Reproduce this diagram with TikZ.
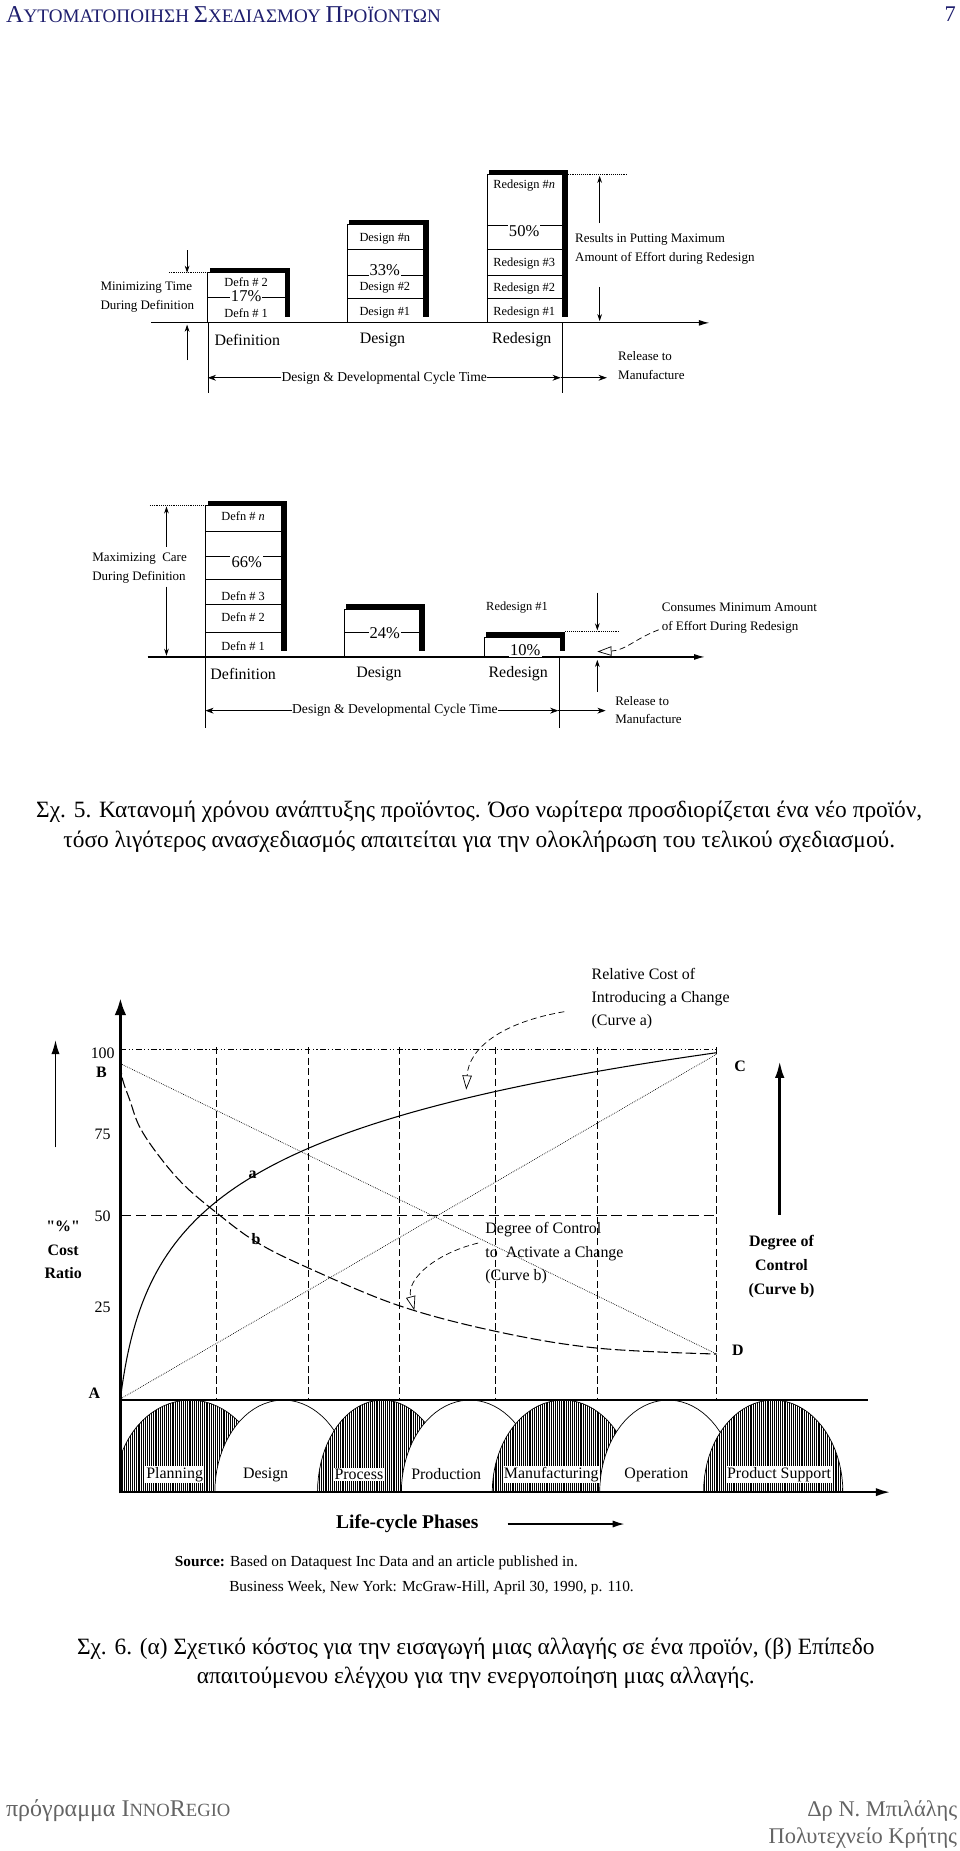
\documentclass[tikz,border=0pt]{standalone}
\usepackage{fontspec}
\setmainfont{Liberation Serif}
\usepackage{xcolor}
\definecolor{pghead}{RGB}{30,30,110}
\definecolor{pgfoot}{RGB}{100,100,100}
\usetikzlibrary{arrows.meta,positioning,patterns.meta}
\newcommand{\fsz}[2]{\fontsize{#1}{#2}\selectfont}
\newcommand{\effbox}[4]{%
  \fill (#1+2,#3-4) rectangle (#2+5,#3);
  \fill (#2,#3-4) rectangle (#2+5,#4-5);
  \draw[line width=0.6pt] (#1,#4) -- (#1,#3) -- (#2,#3);}

\begin{document}
\begin{tikzpicture}[x=1pt,y=-1pt,
  txt/.style={inner sep=0.5pt,font=\fsz{10.5}{12}},
  pct/.style={inner sep=1pt,fill=white,font=\fsz{14}{16}},
  phase/.style={inner sep=0pt,font=\fsz{13.5}{16}},
  note/.style={inner sep=0pt,align=left,font=\fsz{11}{16}},
  rowline/.style={line width=0.5pt},
  hairline/.style={line width=0.3pt},
  dotline/.style={line width=0.6pt,densely dotted},
  dimarr/.style={-{Stealth[length=6pt,width=4pt]},line width=0.6pt},
  cycarr/.style={-{Stealth[length=7pt,width=5pt]},line width=0.6pt},
  flowarr/.style={-{Latex[length=9pt,width=5pt]},line width=1pt},
  pointer/.style={line width=0.6pt,dash pattern=on 5pt off 3pt,-{Triangle[open,length=12pt,width=8pt]}},
  chtxt/.style={inner sep=0pt,align=left,font=\fsz{13.5}{19.5}},
  chbf/.style={inner sep=0pt,align=center,font=\bfseries\fsz{13.5}{20}},
  grida/.style={line width=0.6pt,dash pattern=on 5pt off 2pt on 1pt off 2pt on 1pt off 2pt},
  gridb/.style={line width=0.8pt,dash pattern=on 9pt off 4pt},
  gridv/.style={line width=0.7pt,dash pattern=on 6pt off 3pt},
  curvea/.style={line width=0.9pt},
  curveb/.style={line width=0.9pt,dash pattern=on 9pt off 3pt},
  guide/.style={line width=0.6pt,densely dotted},
  archw/.style={draw,fill=white,line width=0.6pt},
  archh/.style={draw,line width=0.6pt,preaction={fill=white},
    pattern={Lines[angle=90,distance=1.6pt,line width=0.55pt]}},
  figcap/.style={inner sep=0pt,align=center,font=\fsz{19.8}{25}}]
\useasboundingbox[fill=white] (0,0) rectangle (813,1568);

% page head
\node[anchor=west,text=pghead,inner sep=0pt] (head) at (5,12)
  {\fsz{20.5}{22}Α\fsz{16.2}{18}ΥΤΟΜΑΤΟΠΟΙΗΣΗ \fsz{20.5}{22}Σ\fsz{16.2}{18}ΧΕΔΙΑΣΜΟΥ \fsz{20.5}{22}Π\fsz{16.2}{18}ΡΟΪΟΝΤΩΝ};
\node[text=pghead,inner sep=0pt,font=\fsz{19}{22}] (pgno) at (805,12) {7};

% Fig. 5, upper part
\coordinate (ax1l) at (128,273.5);
\coordinate (ax1r) at (601,273.5);
\draw[flowarr] (ax1l) -- (ax1r);
\effbox{176}{241}{231}{273.5}
\draw[rowline] (176,252) -- (241,252);
\node[txt] (dfa2) at (208.5,239) {Defn \# 2};
\node[pct] (dfa17) at (208.5,250.5) {17\%};
\node[txt] (dfa1) at (208.5,265) {Defn \# 1};
\effbox{294}{358}{190}{273.5}
\foreach \y in {211,233,253} \draw[rowline] (294,\y) -- (358,\y);
\node[txt] (dsan) at (326,202) {Design \#n};
\node[pct,anchor=base] (dsa33) at (326,233.5) {33\%};
\node[txt] (dsa2) at (326,244) {Design \#2};
\node[txt] (dsa1) at (326,264.5) {Design \#1};
\effbox{412.5}{476}{148}{273.5}
\foreach \y in {190.5,211,233,253} \draw[rowline] (412.5,\y) -- (476,\y);
\node[txt] (rdan) at (444,157) {Redesign \#\textit{n}};
\node[pct] (rda50) at (444,196) {50\%};
\node[txt] (rda3) at (444,223) {Redesign \#3};
\node[txt] (rda2) at (444,244) {Redesign \#2};
\node[txt] (rda1) at (444,264.5) {Redesign \#1};
\draw[dotline] (143,231) -- (176,231);
\draw[dotline] (481,148) -- (531,148);
\coordinate (mt1) at (158.5,212);
\coordinate (mt2) at (158.5,231);
\coordinate (mt3) at (158.5,305);
\coordinate (mt4) at (158.5,275);
\draw[dimarr] (mt1) -- (mt2);
\draw[dimarr] (mt3) -- (mt4);
\node[note,anchor=west] (mintime) at (85,251.5) {Minimizing Time\\During Definition};
\coordinate (rm1) at (508,189);
\coordinate (rm2) at (508,149);
\coordinate (rm3) at (508,243);
\coordinate (rm4) at (508,272);
\draw[dimarr] (rm1) -- (rm2);
\draw[dimarr] (rm3) -- (rm4);
\node[note,anchor=west] (maxeff) at (487,211) {Results in Putting Maximum\\Amount of Effort during Redesign};
\node[phase] (pha1) at (209.5,288) {Definition};
\node[phase] (pha2) at (324,288) {Design};
\node[phase] (pha3) at (442,288) {Redesign};
\draw[hairline] (176,273.5) -- (176,333);
\draw[hairline] (476,273.5) -- (476,333);
\node[note,font=\fsz{11.5}{14}] (cyca) at (325.5,320) {Design \& Developmental Cycle Time};
\coordinate (cyal) at (176,320);
\coordinate (cyar) at (475,320);
\coordinate (rela) at (514,320);
\draw[cycarr] (cyca.west) -- (cyal);
\draw[cycarr] (cyca.east) -- (cyar);
\draw[cycarr] (cyar) -- (rela);
\node[note,anchor=west] (relta) at (523.5,310) {Release to\\Manufacture};

% Fig. 5, lower part
\coordinate (ax2l) at (125,556.5);
\coordinate (ax2r) at (597,556.5);
\draw[flowarr] (ax2l) -- (ax2r);
\effbox{174}{238}{428}{556.5}
\foreach \y in {450,471,491,512,536} \draw[rowline] (174,\y) -- (238,\y);
\node[txt] (dfbn) at (206,437) {Defn \# \textit{n}};
\node[pct] (dfb66) at (209,476.5) {66\%};
\node[txt] (dfb3) at (206,505) {Defn \# 3};
\node[txt] (dfb2) at (206,523) {Defn \# 2};
\node[txt] (dfb1) at (206,547) {Defn \# 1};
\effbox{291.5}{355}{516}{556.5}
\draw[rowline] (291.5,536) -- (355,536);
\node[pct] (dsb24) at (326,536) {24\%};
\effbox{410}{474}{539.5}{556.5}
\node[pct] (rdb10) at (445,550.5) {10\%};
\node[txt] (rdb1) at (438,515) {Redesign \#1};
\draw[dotline] (127,428) -- (174,428);
\draw[dotline] (479,535) -- (525,535);
\coordinate (mc1) at (141,463);
\coordinate (mc2) at (141,429);
\coordinate (mc3) at (141,497);
\coordinate (mc4) at (141,555.5);
\draw[dimarr] (mc1) -- (mc2);
\draw[dimarr] (mc3) -- (mc4);
\node[note,anchor=west] (maxcare) at (78,481) {Maximizing\ \ Care\\During Definition};
\coordinate (cm1) at (506,502);
\coordinate (cm2) at (506,534);
\coordinate (cm3) at (506,586);
\coordinate (cm4) at (506,559);
\draw[dimarr] (cm1) -- (cm2);
\draw[dimarr] (cm3) -- (cm4);
\node[note,anchor=west] (mineff) at (560.5,523.5) {Consumes Minimum Amount\\of Effort During Redesign};
\coordinate (mp1) at (558,533.5);
\coordinate (mp2) at (506,552);
\draw[pointer] (mp1) .. controls (538,541) and (530,551) .. (mp2);
\node[phase] (phb1) at (206,571) {Definition};
\node[phase] (phb2) at (321,571) {Design};
\node[phase] (phb3) at (439,571) {Redesign};
\draw[hairline] (174,556.5) -- (174,617);
\draw[hairline] (474,556.5) -- (474,617);
\node[note,font=\fsz{11.5}{14}] (cycb) at (334.5,602) {Design \& Developmental Cycle Time};
\coordinate (cybl) at (174,602);
\coordinate (cybr) at (473,602);
\coordinate (relb) at (513,602);
\draw[cycarr] (cycb.west) -- (cybl);
\draw[cycarr] (cycb.east) -- (cybr);
\draw[cycarr] (cybr) -- (relb);
\node[note,anchor=west] (reltb) at (521,601.5) {Release to\\Manufacture};

\node[figcap] (cap5) at (406,700.5) {Σχ. 5. Κατανομή χρόνου ανάπτυξης προϊόντος. Όσο νωρίτερα προσδιορίζεται ένα νέο προϊόν,\\τόσο λιγότερος ανασχεδιασμός απαιτείται για την ολοκλήρωση του τελικού σχεδιασμού.};

% Fig. 6
\coordinate (A) at (102,1185);
\coordinate (B) at (102,901);
\coordinate (C) at (607,893);
\coordinate (D) at (607,1147);
\draw[grida] (102,889) -- (607,889);
\draw[gridb] (102,1030) -- (607,1030);
\foreach \x in {183,261,338,420,506,607} \draw[gridv] (\x,887) -- (\x,1186);
\draw[guide] (B) -- (D);
\draw[guide] (A) -- (C);
\draw[curvea] plot[domain=0:22.47,samples=90,variable=\s] ({102+\s*\s},{1185-72.5*ln(1+\s*\s/9)});
\draw[curveb] plot[smooth,tension=0.6] coordinates {(B) (104,915) (110,932) (118,954) (133,977) (155,1003) (183,1027) (217,1052) (261,1074) (338,1106) (421,1128) (506,1142) (D)};
\begin{scope}
  \clip (102,1186) rectangle (760,1264);
  \foreach \cx/\hw/\st in {161/64/archh,240/58/archw,324/55/archh,398/58/archw,477/60/archh,566/58/archw,655/59/archh}
    \draw[\st] plot[domain=180:360,samples=40,variable=\t] ({\cx+\hw*cos(\t)},{1264+78*sin(\t)}) -- cycle;
\end{scope}
\draw[line width=1.8pt] (102,1186) -- (735,1186);
\draw[line width=1.8pt,-{Latex[length=12pt,width=7pt]}] (101,1264) -- (754,1264);
\draw[line width=3pt,-{Latex[length=15pt,width=10pt]}] (102,1265) -- (102,845);
\node[phase,fill=white,inner sep=1pt] (lc1) at (148,1249) {Planning};
\node[phase] (lc2) at (225,1249) {Design};
\node[phase,fill=white,inner sep=1pt] (lc3) at (304,1249) {Process};
\node[phase] (lc4) at (378,1249) {Production};
\node[phase,fill=white,inner sep=1pt] (lc5) at (467,1249) {Manufacturing};
\node[phase] (lc6) at (556,1249) {Operation};
\node[phase,fill=white,inner sep=1pt] (lc7) at (660,1249) {Product Support};
\node[chbf] (lA) at (80,1180) {A};
\node[chbf] (lB) at (86,908) {B};
\node[chbf] (lC) at (627,903) {C};
\node[chbf] (lD) at (625,1144) {D};
\node[chtxt] (t100) at (87,892) {100};
\node[chtxt] (t75) at (87,961) {75};
\node[chtxt] (t50) at (87,1030) {50};
\node[chtxt] (t25) at (87,1107) {25};
\node[chbf] (la) at (214,995) {a};
\node[chbf] (lb) at (217,1050) {b};
\coordinate (yl1) at (47,972);
\coordinate (yl2) at (47,881);
\draw[line width=1.3pt,-{Latex[length=12pt,width=7pt]}] (yl1) -- (yl2);
\node[chbf] (costr) at (53.5,1059) {\textquotedbl\%\textquotedbl\\Cost\\Ratio};
\coordinate (yr1) at (660.5,1029);
\coordinate (yr2) at (660.5,899);
\draw[line width=2.2pt,-{Latex[length=14pt,width=8pt]}] (yr1) -- (yr2);
\node[chbf] (dctrl) at (662,1073) {Degree of\\Control\\(Curve b)};
\node[chtxt,anchor=west] (relc) at (501,846) {Relative Cost of\\Introducing a Change\\(Curve a)};
\node[chtxt,anchor=west] (dgc) at (411,1061.5) {Degree of Control\\to\ \ Activate a Change\\(Curve b)};
\coordinate (pa1) at (478,857);
\coordinate (pa2) at (395,923);
\draw[pointer] (pa1) .. controls (425,866) and (397,888) .. (pa2);
\coordinate (pb1) at (405,1053);
\coordinate (pb2) at (351,1110);
\draw[pointer] (pb1) .. controls (368,1062) and (344,1084) .. (pb2);
\node[inner sep=0pt,font=\bfseries\fsz{16.5}{18}] (lcp) at (345,1291) {Life-cycle Phases};
\coordinate (lcp1) at (430,1291);
\coordinate (lcp2) at (529,1291);
\draw[line width=1.2pt,-{Latex[length=10pt,width=6pt]}] (lcp1) -- (lcp2);
\node[inner sep=0pt,anchor=west,font=\fsz{13}{15}] (src1) at (148,1324) {\textbf{Source:} Based on Dataquest Inc Data and an article published in.};
\node[inner sep=0pt,anchor=west,font=\fsz{13}{15}] (src2) at (194,1345) {Business Week, New York: McGraw-Hill, April 30, 1990, p. 110.};

\node[figcap] (cap6) at (403,1409) {Σχ. 6. (α) Σχετικό κόστος για την εισαγωγή μιας αλλαγής σε ένα προϊόν, (β) Επίπεδο\\απαιτούμενου ελέγχου για την ενεργοποίηση μιας αλλαγής.};

% page foot
\node[anchor=west,text=pgfoot,inner sep=0pt] (footl) at (5,1534)
  {\fsz{20.3}{22}πρόγραμμα I\fsz{15.8}{18}NNO\fsz{20.3}{22}R\fsz{15.8}{18}EGIO};
\node[anchor=east,text=pgfoot,inner sep=0pt,align=right,font=\fsz{19}{23}] (footr) at (811,1545.5) {Δρ Ν. Μπιλάλης\\Πολυτεχνείο Κρήτης};
\end{tikzpicture}
\end{document}
